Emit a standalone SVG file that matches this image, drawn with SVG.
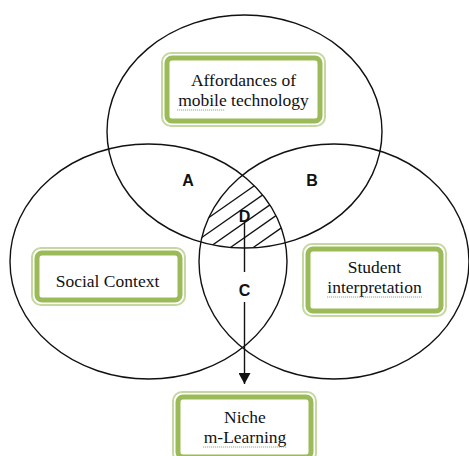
<svg xmlns="http://www.w3.org/2000/svg" width="469" height="456" viewBox="0 0 469 456">
<style>
.ell{fill:none;stroke:#111;stroke-width:1.4}
.bo{fill:#fff;stroke:#c5d8a2;stroke-width:2}
.bi{fill:#fff;stroke:#9bbb59;stroke-width:5}
.t{font-family:"Liberation Serif","Times New Roman",serif;font-size:17.5px;fill:#111;text-anchor:middle}
.l{font-family:"Liberation Sans",Arial,sans-serif;font-size:16px;font-weight:bold;fill:#111;text-anchor:middle}
.sq{fill:none;stroke:#6fae6f;stroke-width:0.9;stroke-dasharray:1.2 0.8}
.h{stroke:#111;stroke-width:1.3}
</style>
<defs>
<clipPath id="cTop"><ellipse cx="244.5" cy="131.5" rx="137.5" ry="116.5"/></clipPath>
<clipPath id="cLeft"><ellipse cx="148.5" cy="261.5" rx="138.5" ry="117.5"/></clipPath>
<clipPath id="cRight"><ellipse cx="334" cy="261.5" rx="135" ry="117.5"/></clipPath>
<marker id="arr" markerWidth="11" markerHeight="12" refX="11" refY="6" orient="auto" markerUnits="userSpaceOnUse">
<path d="M0,0 L11,6 L0,12 Z" fill="#111"/>
</marker>
</defs>
<rect width="469" height="456" fill="#fff"/>
<g id="circles">
<ellipse id="circle-top" class="ell" cx="244.5" cy="131.5" rx="137.5" ry="116.5"/>
<ellipse id="circle-left" class="ell" cx="148.5" cy="261.5" rx="138.5" ry="117.5"/>
<ellipse id="circle-right" class="ell" cx="334" cy="261.5" rx="135" ry="117.5"/>
</g>
<g id="hatch" clip-path="url(#cTop)">
<g clip-path="url(#cLeft)">
<g clip-path="url(#cRight)">
<line class="h" x1="180" y1="237.8" x2="300" y2="153.8"/>
<line class="h" x1="180" y1="252.8" x2="300" y2="168.8"/>
<line class="h" x1="180" y1="267.8" x2="300" y2="183.8"/>
<line class="h" x1="180" y1="282.8" x2="300" y2="198.8"/>
<line class="h" x1="180" y1="298.8" x2="300" y2="214.8"/>
</g>
</g>
</g>
<g id="node-affordances">
<rect class="bo" x="162" y="53" width="163" height="73" rx="9"/>
<rect class="bi" x="167" y="58" width="153" height="63" rx="5"/>
<text class="t" x="243.5" y="86">Affordances of</text>
<text class="t" x="243.5" y="105.5">mobile technology</text>
<line class="sq" x1="177" y1="110" x2="225" y2="110"/>
</g>
<g id="node-social">
<rect class="bo" x="32" y="248" width="153" height="57" rx="9"/>
<rect class="bi" x="37" y="253" width="143" height="47" rx="5"/>
<text class="t" x="107.5" y="287">Social Context</text>
</g>
<g id="node-student">
<rect class="bo" x="303" y="244" width="143" height="72" rx="9"/>
<rect class="bi" x="308" y="249" width="133" height="62" rx="5"/>
<text class="t" x="374.5" y="273">Student</text>
<text class="t" x="374.5" y="292.5">interpretation</text>
<line class="sq" x1="327" y1="297" x2="422" y2="297"/>
</g>
<g id="node-niche">
<rect class="bo" x="173" y="392" width="143" height="70" rx="9"/>
<rect class="bi" x="178" y="397" width="133" height="60" rx="5"/>
<text class="t" x="245" y="423">Niche</text>
<text class="t" x="245" y="442.5">m-Learning</text>
<line class="sq" x1="203" y1="447" x2="287" y2="447"/>
</g>
<g id="labels">
<text class="l" x="188" y="186">A</text>
<text class="l" x="312" y="186">B</text>
<text class="l" x="244.5" y="222">D</text>
<text class="l" x="244.5" y="296">C</text>
</g>
<g id="connectors">
<line x1="244.5" y1="223" x2="244.5" y2="272" stroke="#111" stroke-width="1.4"/>
<line x1="244.5" y1="302" x2="244.5" y2="384" stroke="#111" stroke-width="1.4" marker-end="url(#arr)"/>
</g>
</svg>
